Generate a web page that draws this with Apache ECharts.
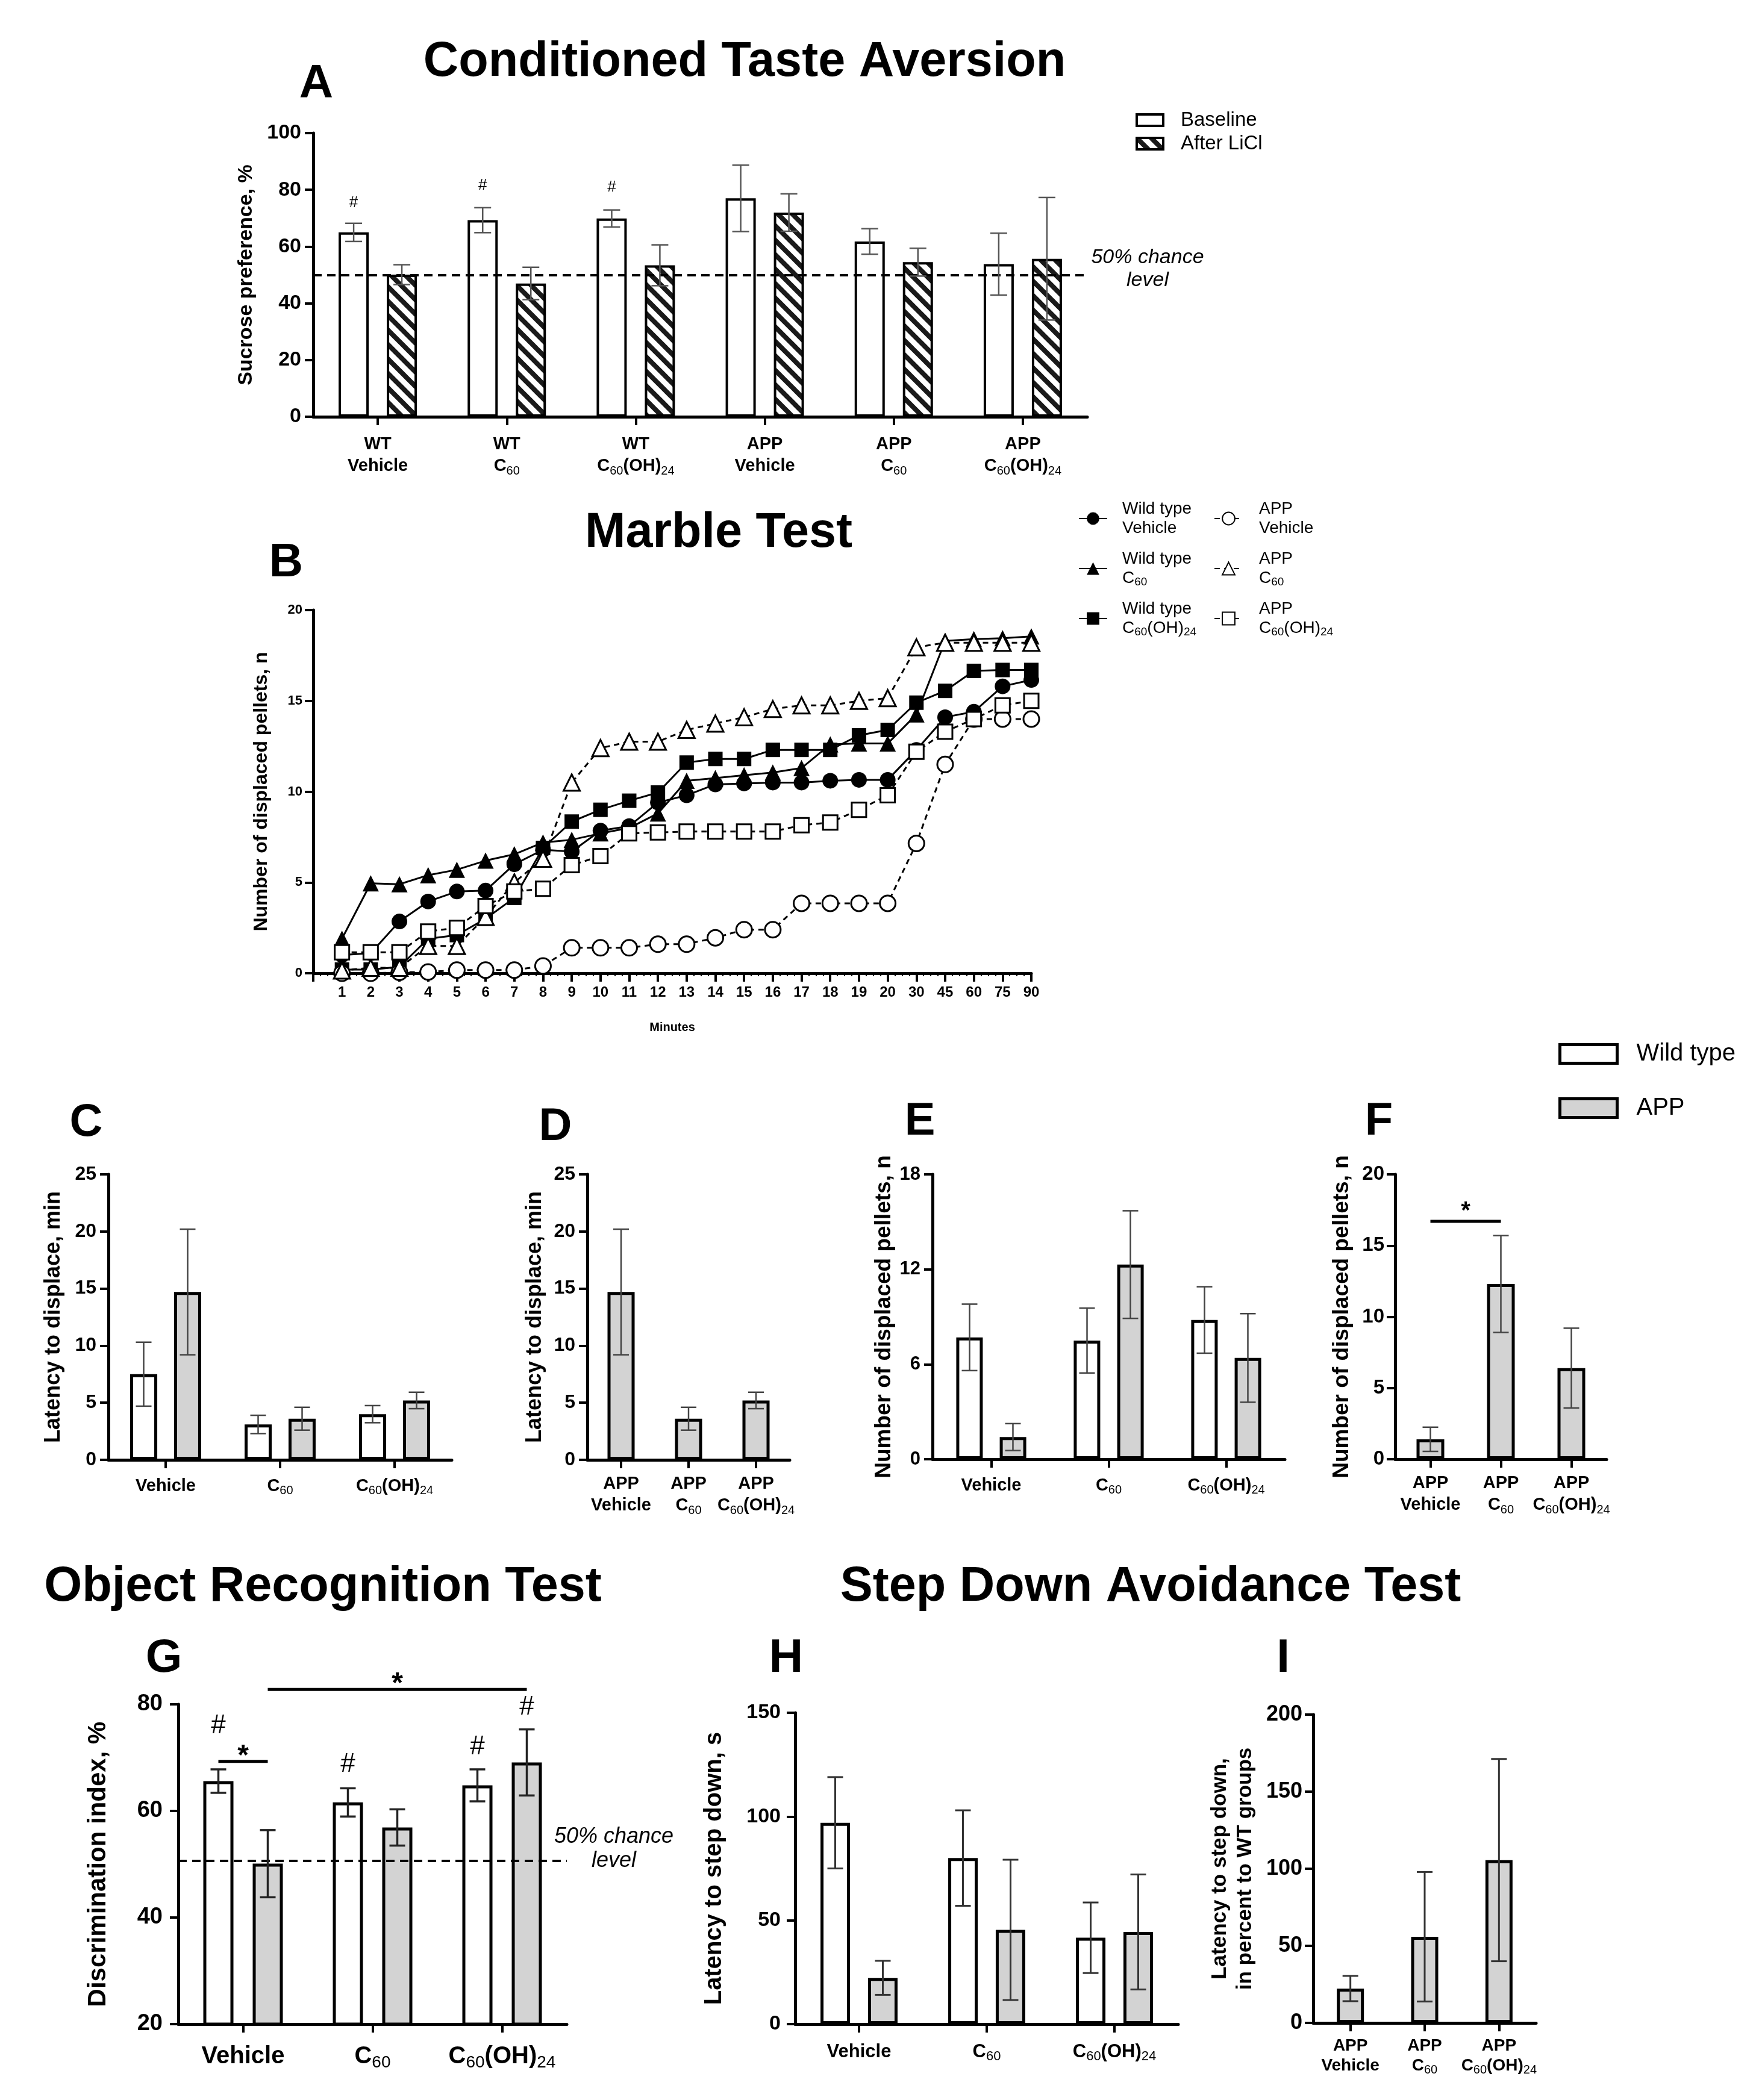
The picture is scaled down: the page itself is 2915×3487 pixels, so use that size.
<!DOCTYPE html>
<html><head><meta charset="utf-8">
<script src="https://cdn.jsdelivr.net/npm/echarts@6/dist/echarts.min.js"></script>
<style>html,body{margin:0;padding:0;background:#fff}#c{width:2915px;height:3487px}</style>
</head><body><div id="c"></div><script>
// ---------------- DATA ----------------
// A: Conditioned taste aversion (mean, SEM)
const ctaCategories = ['WT\nVehicle','WT\nC60','WT\nC60(OH)24','APP\nVehicle','APP\nC60','APP\nC60(OH)24'];
const ctaBaseline    = [65.0, 69.3, 69.9, 77.0, 61.8, 53.8];
const ctaBaselineErr = [3.2, 4.4, 3.0, 11.7, 4.5, 10.9];
const ctaLiCl        = [50.1, 47.0, 53.4, 72.0, 54.5, 55.7];
const ctaLiClErr     = [3.5, 5.7, 7.2, 6.6, 4.9, 21.6];
const ctaHash        = [[0, 75.4], [1, 81.5], [2, 81.0]];
const ctaChance      = 50;

// B: Marble test
const minuteLabels = ['1','2','3','4','5','6','7','8','9','10','11','12','13','14','15','16','17','18','19','20','30','45','60','75','90'];
const mbWtVehicle = [1.0,1.1,2.85,3.95,4.5,4.55,6.0,6.8,6.7,7.85,8.1,9.4,9.8,10.4,10.45,10.5,10.5,10.6,10.65,10.65,12.3,14.1,14.4,15.8,16.15];
const mbWtC60     = [1.9,4.95,4.9,5.4,5.7,6.2,6.55,7.2,7.35,7.7,8.0,8.8,10.6,10.75,10.9,11.05,11.3,12.6,12.65,12.65,14.25,18.3,18.4,18.45,18.55];
const mbWtC60OH   = [0.2,0.2,0.35,1.9,2.1,3.0,4.15,6.9,8.35,9.0,9.5,9.95,11.6,11.8,11.8,12.3,12.3,12.3,13.1,13.4,14.9,15.55,16.65,16.7,16.7];
const mbAppVehicle= [0,0,0.05,0.07,0.17,0.17,0.17,0.4,1.4,1.4,1.4,1.6,1.6,1.95,2.4,2.4,3.85,3.85,3.85,3.85,7.15,11.5,14.0,14.0,14.0];
const mbAppC60    = [0.15,0.3,0.3,1.5,1.5,3.1,5.0,6.3,10.5,12.4,12.75,12.75,13.4,13.75,14.1,14.55,14.75,14.75,15.0,15.15,17.95,18.2,18.2,18.2,18.2];
const mbAppC60OH  = [1.15,1.15,1.15,2.3,2.5,3.7,4.5,4.65,5.95,6.45,7.7,7.75,7.8,7.8,7.8,7.8,8.15,8.3,9.0,9.8,12.2,13.3,14.0,14.75,15.0];

// C/D: latency to displace, min
const treatCategories = ['Vehicle','C60','C60(OH)24'];
const appCategories   = ['APP\nVehicle','APP\nC60','APP\nC60(OH)24'];
const latWT    = [7.5, 3.1, 4.0];
const latWTErr = [2.8, 0.8, 0.75];
const latAPP    = [14.7, 3.6, 5.2];
const latAPPErr = [5.5, 1.0, 0.72];

// E/F: number of displaced pellets
const pelWT    = [7.7, 7.5, 8.8];
const pelWTErr = [2.1, 2.05, 2.1];
const pelAPP    = [1.4, 12.3, 6.4];
const pelAPPErr = [0.85, 3.4, 2.8];
const pelSig    = [[0, 1, 16.7]];

// G: object recognition, discrimination index %
const diWT    = [65.6, 61.6, 64.8];
const diWTErr = [2.2, 2.65, 3.0];
const diAPP    = [50.1, 56.9, 69.1];
const diAPPErr = [6.3, 3.4, 6.2];
const diHash   = [[0, 75.9], [1, 68.7], [2, 72.0], [2, 79.4]];
const diSig    = [[0, 0, 69.3], [0, 2, 82.8]];
const diChance = 50.6;

// H: step down latency, s
const sdWT    = [97.0, 80.0, 41.6];
const sdWTErr = [22.0, 23.0, 17.0];
const sdAPP    = [22.3, 45.4, 44.4];
const sdAPPErr = [8.2, 33.8, 27.7];

// I: latency in percent to WT groups
const sdPct    = [22.3, 55.9, 105.6];
const sdPctErr = [8.2, 42.0, 65.6];

// B legend labels
const marbleNames = ['Wild type Vehicle','Wild type C60','Wild type C60(OH)24','APP Vehicle','APP C60','APP C60(OH)24'];
const marbleLegendText = {
  'Wild type Vehicle':'Wild type\nVehicle', 'Wild type C60':'Wild type\nC60', 'Wild type C60(OH)24':'Wild type\nC60(OH)24',
  'APP Vehicle':'APP\nVehicle', 'APP C60':'APP\nC60', 'APP C60(OH)24':'APP\nC60(OH)24'
};

// ---------------- STYLE HELPERS ----------------
const FONT = "'Liberation Sans', Arial, Helvetica, sans-serif";
const GRAY = '#d3d3d3';

function sub(v){ return String(v).replace(/C60/g,'C{s|60}').replace(/\)24/g,'){s|24}'); }
function subRich(fs){ return { s:{ fontSize:Math.round(fs*0.7), fontFamily:FONT, fontWeight:'normal', color:'#000', verticalAlign:'bottom', lineHeight:Math.round(fs*0.45) } }; }

function hatch(){
  const n = 24, c = document.createElement('canvas'); c.width = n; c.height = n;
  const g = c.getContext('2d');
  g.fillStyle = '#fff'; g.fillRect(0,0,n,n);
  g.strokeStyle = '#1a1a1a'; g.lineWidth = 8;
  g.beginPath();
  for (let k=-1;k<=1;k++){ g.moveTo(k*n-4, -4); g.lineTo(k*n+n+4, n+4); }
  g.stroke();
  return c;
}

function xCat(gi, data, fs, margin, lh){
  return { type:'category', gridIndex:gi, data, boundaryGap:true,
    axisLine:{show:true, onZero:false, lineStyle:{color:'#000', width:5}},
    axisTick:{show:true, alignWithLabel:true, length:14, lineStyle:{color:'#000', width:4}},
    axisLabel:{show:true, interval:0, color:'#000', fontFamily:FONT, fontWeight:'bold', fontSize:fs, margin, lineHeight:lh||Math.round(fs*1.2), formatter:sub, rich:subRich(fs)},
    splitLine:{show:false} };
}
function yVal(gi, min, max, interval, fs, margin, name, nfs, ngap, nlh){
  return { type:'value', gridIndex:gi, min, max, interval,
    axisLine:{show:true, onZero:false, lineStyle:{color:'#000', width:5}},
    axisTick:{show:true, length:14, lineStyle:{color:'#000', width:4}},
    axisLabel:{color:'#000', fontFamily:FONT, fontWeight:'bold', fontSize:fs, margin},
    splitLine:{show:false},
    name, nameLocation:'middle', nameRotate:90, nameGap:ngap,
    nameTextStyle:{color:'#000', fontFamily:FONT, fontWeight:'bold', fontSize:nfs, lineHeight:nlh||Math.round(nfs*1.15)} };
}
function bars(name, gi, data, color, bw, gap, bwidth, extra){
  return Object.assign({ type:'bar', name, xAxisIndex:gi, yAxisIndex:gi, data, barWidth:bw, barGap:gap,
    itemStyle:{color, borderColor:'#000', borderWidth:bwidth||5}, emphasis:{disabled:true}, z:2 }, extra||{});
}
function errs(gi, means, errArr, dx, cap, color, lw){
  return { type:'custom', xAxisIndex:gi, yAxisIndex:gi, z:5, silent:true, clip:false,
    data: means.map((m,i)=>[i, m, errArr[i]]), encode:{x:0, y:1},
    renderItem:(p, api)=>{
      const i=api.value(0), m=api.value(1), e=api.value(2);
      const t=api.coord([i, m+e]), b=api.coord([i, m-e]);
      const x=t[0]+dx, st={stroke:color, lineWidth:lw};
      return { type:'group', children:[
        {type:'line', shape:{x1:x, y1:t[1], x2:x, y2:b[1]}, style:st},
        {type:'line', shape:{x1:x-cap, y1:t[1], x2:x+cap, y2:t[1]}, style:st},
        {type:'line', shape:{x1:x-cap, y1:b[1], x2:x+cap, y2:b[1]}, style:st} ] };
    } };
}
function marks(gi, pts, offs, text, fs, weight){
  return { type:'custom', xAxisIndex:gi, yAxisIndex:gi, z:6, silent:true, clip:false,
    data: pts, encode:{x:0, y:1},
    renderItem:(p, api)=>{
      const c = api.coord([api.value(0), api.value(1)]);
      return { type:'text', x:c[0]+offs[p.dataIndex], y:c[1],
        style:{ text, fontSize:fs, fontFamily:FONT, fontWeight:weight||'normal', fill:'#000', align:'center', verticalAlign:'middle', textAlign:'center', textVerticalAlign:'middle' } };
    } };
}
function sig(gi, data, offs, starFs, starDy, lw){
  return { type:'custom', xAxisIndex:gi, yAxisIndex:gi, z:6, silent:true, clip:false,
    data, encode:{x:0, y:2},
    renderItem:(p, api)=>{
      const o = offs[p.dataIndex];
      const a = api.coord([api.value(0), api.value(2)]), b = api.coord([api.value(1), api.value(2)]);
      const x1=a[0]+o[0], x2=b[0]+o[1], y=a[1];
      return { type:'group', children:[
        {type:'line', shape:{x1, y1:y, x2, y2:y}, style:{stroke:'#000', lineWidth:lw}},
        {type:'text', x:(x1+x2)/2, y:y+starDy, style:{text:'*', fontSize:starFs, fontFamily:FONT, fontWeight:'bold', fill:'#000', align:'center', verticalAlign:'middle', textAlign:'center', textVerticalAlign:'middle'}} ] };
    } };
}
function chanceLine(v){
  return { symbol:'none', silent:true, label:{show:false}, lineStyle:{type:[14,9], color:'#000', width:4}, data:[{yAxis:v}] };
}
function lineSeries(name, vals, symbol, size, filled, dashed){
  return { type:'line', name, xAxisIndex:1, yAxisIndex:1, data: vals.map((v,i)=>[i+1, v]),
    symbol, symbolSize:size, showSymbol:true, showAllSymbol:true,
    lineStyle:{color:'#000', width:3, type: dashed ? [9,7] : 'solid'},
    itemStyle:{color: filled ? '#000' : '#fff', borderColor:'#000', borderWidth: filled ? 0 : 3},
    emphasis:{disabled:true}, z: dashed ? 4 : 3 };
}
function txt(x, y, text, fs, weight, style){
  return { type:'text', x, y, silent:true,
    style:{ text, fontSize:fs, fontFamily:FONT, fontWeight:weight||'bold', fontStyle:style||'normal', fill:'#000',
      align:'center', verticalAlign:'middle', textAlign:'center', textVerticalAlign:'middle', lineHeight:Math.round(fs*1.15) } };
}

// ---------------- LAYOUT ----------------
const grids = [
  {left:520,  top:221,  width:1285, height:471},  // A
  {left:520,  top:1013, width:1192, height:603},  // B
  {left:180,  top:1950, width:570,  height:474},  // C
  {left:975,  top:1950, width:336,  height:474},  // D
  {left:1548, top:1950, width:585,  height:473},  // E
  {left:2316, top:1950, width:351,  height:473},  // F
  {left:296,  top:2830, width:645,  height:531},  // G
  {left:1320, top:2844, width:636,  height:517},  // H
  {left:2180, top:2847, width:370,  height:512}   // I
];

const marbleX = {
  type:'value', gridIndex:1, min:0, max:25, interval:1,
  axisLine:{show:true, onZero:false, lineStyle:{color:'#000', width:5}},
  axisTick:{show:true, length:14, lineStyle:{color:'#000', width:4}},
  minorTick:{show:true, splitNumber:4, length:5, lineStyle:{color:'#000', width:2}},
  axisLabel:{color:'#000', fontFamily:FONT, fontWeight:'bold', fontSize:24, margin:20,
    formatter:(v)=> (v>=1 && v<=minuteLabels.length) ? minuteLabels[v-1] : ''},
  splitLine:{show:false},
  name:'Minutes', nameLocation:'middle', nameGap:80,
  nameTextStyle:{color:'#000', fontFamily:FONT, fontWeight:'bold', fontSize:20}
};

const xAxes = [
  xCat(0, ctaCategories, 29, 28, 36),
  marbleX,
  xCat(2, treatCategories, 29, 26),
  xCat(3, appCategories, 29, 22, 36),
  xCat(4, treatCategories, 29, 26),
  xCat(5, appCategories, 29, 22, 36),
  xCat(6, treatCategories, 40, 30),
  xCat(7, treatCategories, 31, 28),
  xCat(8, appCategories, 28, 22, 33)
];
const yAxes = [
  yVal(0, 0, 100, 20, 34, 20, 'Sucrose preference, %', 34, 92),
  yVal(1, 0, 20, 5, 22, 18, 'Number of displaced pellets, n', 32, 67),
  yVal(2, 0, 25, 5, 32, 20, 'Latency to displace, min', 36, 70),
  yVal(3, 0, 25, 5, 32, 20, 'Latency to displace, min', 36, 66),
  yVal(4, 0, 18, 6, 31, 20, 'Number of displaced pellets, n', 37, 44),
  yVal(5, 0, 20, 5, 33, 18, 'Number of displaced pellets, n', 37, 67),
  yVal(6, 20, 80, 20, 38, 26, 'Discrimination index, %', 42, 109),
  yVal(7, 0, 150, 50, 34, 24, 'Latency to step down, s', 40, 111),
  yVal(8, 0, 200, 50, 36, 18, 'Latency to step down,\nin percent to WT groups', 35, 92, 42)
];

const legendTextBase = {color:'#000', fontFamily:FONT};
const legends = [
  { data:['Baseline','After LiCl'], icon:'rect', orient:'vertical', left:1880, top:178, itemWidth:44, itemHeight:19, itemGap:6,
    itemStyle:{borderColor:'#000', borderWidth:4},
    selectedMode:false, textStyle:Object.assign({fontSize:33, padding:[0,0,0,24]}, legendTextBase) },
  { data:marbleNames.slice(0,3), orient:'vertical', left:1785, top:824, itemWidth:47, itemHeight:26, itemGap:19,
    selectedMode:false, formatter:(n)=>sub(marbleLegendText[n]),
    textStyle:Object.assign({fontSize:28, lineHeight:32, padding:[0,0,0,20], rich:{s:{fontSize:19, fontFamily:FONT, color:'#000', verticalAlign:'bottom', lineHeight:12}}}, legendTextBase) },
  { data:marbleNames.slice(3), orient:'vertical', left:2010, top:824, itemWidth:47, itemHeight:26, itemGap:19,
    selectedMode:false, formatter:(n)=>sub(marbleLegendText[n]),
    textStyle:Object.assign({fontSize:28, lineHeight:32, padding:[0,0,0,22], rich:{s:{fontSize:19, fontFamily:FONT, color:'#000', verticalAlign:'bottom', lineHeight:12}}}, legendTextBase) },
  { data:['Wild type','APP'], icon:'rect', orient:'vertical', left:2582, top:1722, itemWidth:95, itemHeight:31, itemGap:44,
    itemStyle:{borderColor:'#000', borderWidth:5},
    selectedMode:false, textStyle:Object.assign({fontSize:40, lineHeight:46, padding:[0,0,0,27]}, legendTextBase) }
];

const graphics = [
  txt(1236, 104, 'Conditioned Taste Aversion', 81),
  txt(525, 140, 'A', 78),
  txt(1193, 886, 'Marble Test', 81),
  txt(475, 935, 'B', 78),
  txt(143, 1865, 'C', 76),
  txt(922, 1872, 'D', 76),
  txt(1527, 1863, 'E', 76),
  txt(2289, 1863, 'F', 76),
  txt(536, 2636, 'Object Recognition Test', 81),
  txt(272, 2754, 'G', 78),
  txt(1910, 2636, 'Step Down Avoidance Test', 81),
  txt(1305, 2754, 'H', 78),
  txt(2130, 2754, 'I', 78),
  txt(1905, 428, '50% chance', 34, 'normal', 'italic'),
  txt(1905, 466, 'level', 34, 'normal', 'italic'),
  txt(1019, 3050, '50% chance', 36, 'normal', 'italic'),
  txt(1019, 3090, 'level', 36, 'normal', 'italic')
];

const HATCH = {image: hatch(), repeat:'repeat'};

const series = [
  // A
  bars('Baseline', 0, ctaBaseline, '#fff', 50, '60%', 4, {markLine: chanceLine(ctaChance)}),
  bars('After LiCl', 0, ctaLiCl, HATCH, 50, '60%', 4),
  errs(0, ctaBaseline, ctaBaselineErr, -40, 14, '#555', 2.5),
  errs(0, ctaLiCl, ctaLiClErr, 40, 14, '#555', 2.5),
  marks(0, ctaHash, [-40,-40,-40], '#', 26),
  // B
  lineSeries(marbleNames[0], mbWtVehicle, 'circle', 26, true, false),
  lineSeries(marbleNames[1], mbWtC60, 'triangle', 27, true, false),
  lineSeries(marbleNames[2], mbWtC60OH, 'rect', 24, true, false),
  lineSeries(marbleNames[3], mbAppVehicle, 'circle', 26, false, true),
  lineSeries(marbleNames[4], mbAppC60, 'triangle', 27, false, true),
  lineSeries(marbleNames[5], mbAppC60OH, 'rect', 24, false, true),
  // C
  bars('Wild type', 2, latWT, '#fff', 45, '62%'),
  bars('APP', 2, latAPP, GRAY, 45, '62%'),
  errs(2, latWT, latWTErr, -36.5, 13, '#444', 2.5),
  errs(2, latAPP, latAPPErr, 36.5, 13, '#444', 2.5),
  // D
  bars('APP', 3, latAPP, GRAY, 45, '62%'),
  errs(3, latAPP, latAPPErr, 0, 13, '#444', 2.5),
  // E
  bars('Wild type', 4, pelWT, '#fff', 44, '64%'),
  bars('APP', 4, pelAPP, GRAY, 44, '64%'),
  errs(4, pelWT, pelWTErr, -36, 13, '#444', 2.5),
  errs(4, pelAPP, pelAPPErr, 36, 13, '#444', 2.5),
  // F
  bars('APP', 5, pelAPP, GRAY, 46, '62%'),
  errs(5, pelAPP, pelAPPErr, 0, 13, '#444', 2.5),
  sig(5, pelSig, [[0,0]], 40, -16, 5),
  // G
  bars('Wild type', 6, diWT, '#fff', 50, '64%', 5, {markLine: chanceLine(diChance)}),
  bars('APP', 6, diAPP, GRAY, 50, '64%'),
  errs(6, diWT, diWTErr, -41, 13, '#222', 3.5),
  errs(6, diAPP, diAPPErr, 41, 13, '#222', 3.5),
  marks(6, diHash, [-41,-41,-41,41], '#', 44),
  sig(6, diSig, [[-41,41],[41,41]], 48, -8, 5),
  // H
  bars('Wild type', 7, sdWT, '#fff', 49, '61%'),
  bars('APP', 7, sdAPP, GRAY, 49, '61%'),
  errs(7, sdWT, sdWTErr, -39.5, 13, '#333', 3),
  errs(7, sdAPP, sdAPPErr, 39.5, 13, '#333', 3),
  // I
  bars('APP', 8, sdPct, GRAY, 45, '62%'),
  errs(8, sdPct, sdPctErr, 0, 13, '#333', 3)
];

const chart = echarts.init(document.getElementById('c'), null, {renderer:'canvas', width:2915, height:3487});
chart.setOption({
  animation:false, backgroundColor:'#fff',
  grid: grids, xAxis: xAxes, yAxis: yAxes, legend: legends, graphic: graphics, series
});
</script></body></html>
